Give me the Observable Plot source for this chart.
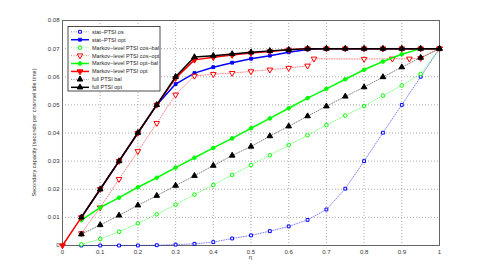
<!DOCTYPE html>
<html><head><meta charset="utf-8">
<script src="https://cdn.jsdelivr.net/npm/d3@7"></script>
<script src="https://cdn.jsdelivr.net/npm/@observablehq/plot@0.6"></script>
<style>
html,body{margin:0;padding:0;background:#fff;}
#chart svg{display:block;}
</style>
</head><body><div id="chart"></div>
<script>
const eta = [0.05,0.1,0.15,0.2,0.25,0.3,0.35,0.4,0.45,0.5,0.55,0.6,0.65,0.7,0.75,0.8,0.85,0.9,0.95,1];
const etaFull = [0,0.05,0.1,0.15,0.2,0.25,0.3,0.35,0.4,0.45,0.5,0.55,0.6,0.65,0.7,0.75,0.8,0.85,0.9,0.95,1];
const etaCosOpt = [0.05,0.1,0.15,0.2,0.25,0.3,0.35,0.4,0.45,0.5,0.55,0.6,0.65,0.667,0.8,0.875,0.92,0.95,1];

const statOs      = [0,0,0,0,0.0001,0.0003,0.0006,0.0012,0.0025,0.0036,0.0051,0.0068,0.0091,0.0128,0.0202,0.030,0.0401,0.050,0.060,0.070];
const statOpt     = [0.01,0.02,0.03,0.04,0.05,0.0574,0.0613,0.0634,0.065,0.0664,0.0675,0.0687,0.0697,0.070,0.070,0.070,0.070,0.070,0.070,0.070];
const markovCosBal= [0.0004,0.0023,0.0049,0.0079,0.0111,0.0145,0.0181,0.0215,0.0251,0.0286,0.0321,0.0357,0.0392,0.0428,0.0462,0.0496,0.0533,0.0569,0.061,0.070];
const markovCosOpt= [0.0043,0.0135,0.0236,0.0335,0.0435,0.0536,0.0603,0.0609,0.0613,0.0619,0.0625,0.0631,0.0639,0.0664,0.0663,0.0664,0.0664,0.0666,0.070];
const markovOptBal= [0.009,0.0135,0.017,0.0207,0.0241,0.0277,0.0312,0.0347,0.0381,0.0417,0.0452,0.0488,0.0524,0.0557,0.0591,0.0625,0.0654,0.068,0.070,0.070];
const markovOpt   = [0,0.01,0.02,0.03,0.04,0.05,0.0595,0.066,0.0669,0.0677,0.0684,0.069,0.0696,0.070,0.070,0.070,0.070,0.070,0.070,0.070,0.070];
const fullBal     = [0.004,0.0073,0.0107,0.0143,0.0177,0.0213,0.0248,0.0284,0.032,0.0352,0.0389,0.0424,0.046,0.0495,0.053,0.0563,0.0599,0.0634,0.0668,0.070];
const fullOpt     = [0.01,0.02,0.03,0.0401,0.050,0.060,0.067,0.0675,0.0681,0.0687,0.0692,0.0696,0.070,0.070,0.070,0.070,0.070,0.070,0.070,0.070];

const xTicks = [0,0.1,0.2,0.3,0.4,0.5,0.6,0.7,0.8,0.9,1];
const yTicks = [0,0.01,0.02,0.03,0.04,0.05,0.06,0.07,0.08];
const xTickLabels = ["0","0.1","0.2","0.3","0.4","0.5","0.6","0.7","0.8","0.9","1"];
const yTickLabels = ["0","0.01","0.02","0.03","0.04","0.05","0.06","0.07","0.08"];

const s3 = Math.sqrt(3);
const triangleDown = {draw(ctx, size){
  const y = -Math.sqrt(size/(s3*3));
  ctx.moveTo(0, -y*2); ctx.lineTo(-s3*y, y); ctx.lineTo(s3*y, y); ctx.closePath();
}};
const triangleUp = {draw(ctx, size){
  const y = -Math.sqrt(size/(s3*3));
  ctx.moveTo(0, y*2); ctx.lineTo(-s3*y, -y); ctx.lineTo(s3*y, -y); ctx.closePath();
}};

const series = [
  {name:"stat–PTSI os", xs:eta, ys:statOs, color:"#0000ff", dotted:true, symbol:"square", fill:"white", r:1.6},
  {name:"stat–PTSI opt", xs:eta, ys:statOpt, color:"#0000ff", dotted:false, symbol:"square", fill:"#0000ff", r:1.6},
  {name:"Markov–level PTSI cos–bal", xs:eta, ys:markovCosBal, color:"#00ff00", dotted:true, symbol:"circle", fill:"white", r:1.8},
  {name:"Markov–level PTSI cos–opt", xs:etaCosOpt, ys:markovCosOpt, color:"#ff0000", dotted:true, symbol:triangleDown, fill:"white", r:2.1},
  {name:"Markov–level PTSI opt–bal", xs:eta, ys:markovOptBal, color:"#00ff00", dotted:false, symbol:"circle", fill:"#00ff00", r:1.8},
  {name:"Markov–level PTSI opt", xs:etaFull, ys:markovOpt, color:"#ff0000", dotted:false, symbol:triangleDown, fill:"#ff0000", r:2.1},
  {name:"full PTSI bal", xs:eta, ys:fullBal, color:"#000000", dotted:true, symbol:triangleUp, fill:"#000000", r:2.1},
  {name:"full PTSI opt", xs:eta, ys:fullOpt, color:"#000000", dotted:false, symbol:triangleUp, fill:"#000000", r:2.1}
];

const marks = [
  Plot.gridX(xTicks, {stroke:"#888", strokeOpacity:0.7, strokeDasharray:"1,2"}),
  Plot.gridY(yTicks, {stroke:"#888", strokeOpacity:0.7, strokeDasharray:"1,2"}),
  Plot.axisX(xTicks, {tickSize:0, tickPadding:4, fontSize:6, fill:"#333", tickFormat:(d,i)=>xTickLabels[i], label:null}),
  Plot.axisY(yTicks, {tickSize:0, tickPadding:3, fontSize:6, fill:"#333", tickFormat:(d,i)=>yTickLabels[i], label:null}),
  Plot.frame({stroke:"#666", strokeWidth:1})
];
for (const s of series) {
  const data = s.xs.map((x,i)=>({x, y:s.ys[i]}));
  marks.push(Plot.line(data, {x:"x", y:"y", stroke:s.color,
    strokeWidth: s.dotted ? 0.8 : 1.5,
    strokeOpacity: s.dotted ? 0.6 : 1,
    strokeDasharray: s.dotted ? "1,1.5" : null}));
  marks.push(Plot.dot(data, {x:"x", y:"y", symbol:()=>s.symbol, stroke:s.color, fill:s.fill, r:s.r, strokeWidth:1}));
}

const chart = Plot.plot({
  width:485, height:276,
  marginLeft:62, marginRight:46, marginTop:20, marginBottom:31,
  style:{fontFamily:"Liberation Sans, Arial, sans-serif", background:"#fff"},
  x:{domain:[0,1], axis:null},
  y:{domain:[0,0.08], axis:null},
  symbol:{type:"identity"},
  marks
});

const svg = d3.select(chart);
// axis titles
svg.append("text").attr("x",250.5).attr("y",259).attr("text-anchor","middle")
  .attr("font-size",6).attr("fill","#333").text("η");
svg.append("text").attr("transform","translate(36,132.5) rotate(-90)").attr("text-anchor","middle")
  .attr("font-size",5.6).attr("fill","#333").text("Secondary capacity (seconds per channel idle time)");

// legend
const lg = svg.append("g").attr("text-anchor","start");
lg.append("rect").attr("x",68).attr("y",26.5).attr("width",92).attr("height",64.5)
  .attr("fill","white").attr("stroke","#222").attr("stroke-width",0.8);
series.forEach((s,i)=>{
  const yy = 31.8 + i*7.93;
  lg.append("line").attr("x1",71).attr("x2",89).attr("y1",yy).attr("y2",yy)
    .attr("stroke",s.color).attr("stroke-width", s.dotted?0.8:1.5)
    .attr("stroke-opacity", s.dotted?0.6:1)
    .attr("stroke-dasharray", s.dotted?"1,1.5":null);
  const sym = typeof s.symbol === "string" ? (s.symbol==="square"? d3.symbolSquare : d3.symbolCircle) : s.symbol;
  lg.append("path").attr("transform",`translate(80,${yy})`)
    .attr("d", d3.symbol(sym, Math.PI*s.r*s.r)())
    .attr("fill",s.fill).attr("stroke",s.color).attr("stroke-width",1);
  lg.append("text").attr("x",92).attr("y",yy).attr("dy","0.35em").attr("text-anchor","start")
    .attr("font-size",5.5).attr("fill","#222").text(s.name.replace(/–/g,"\u2212"));
});

document.getElementById("chart").appendChild(chart);
</script>
</body></html>
